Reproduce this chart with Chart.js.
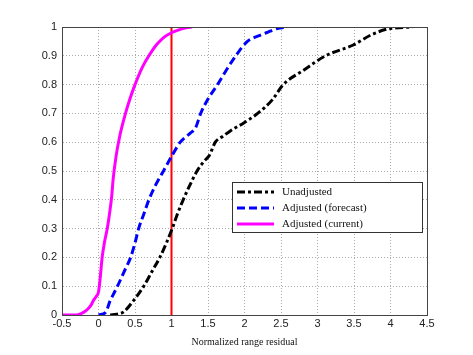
<!DOCTYPE html>
<html><head><meta charset="utf-8">
<script src="https://cdn.jsdelivr.net/npm/chart.js@4/dist/chart.umd.min.js"></script>
<style>html,body{margin:0;padding:0;background:#fff;}#wrap{width:473px;height:355px;}</style>
</head><body><div id="wrap"><canvas id="c" width="473" height="355"></canvas></div>
<script>
const seriesLabels = ['Unadjusted','Adjusted (forecast)','Adjusted (current)'];
const unadjX = [0.16,0.25,0.34,0.48,0.62,0.73,0.84,0.93,1.01,1.08,1.16,1.25,1.35,1.45,1.52,1.6,1.7,1.81,1.99,2.18,2.38,2.53,2.81,3.11,3.49,3.73,3.96,4.3];
const unadjY = [0,0.003,0.01,0.05,0.1,0.15,0.2,0.25,0.3,0.35,0.4,0.45,0.5,0.535,0.555,0.6,0.62,0.64,0.667,0.7,0.747,0.8,0.85,0.9,0.9375,0.972,0.993,1];
const forecastX = [0,0.1,0.16,0.2,0.26,0.35,0.44,0.5,0.55,0.62,0.69,0.78,0.89,1.0,1.12,1.25,1.33,1.4,1.5,1.63,1.75,1.88,2.04,2.2,2.3,2.45,2.58];
const forecastY = [0,0.01,0.05,0.07,0.1,0.15,0.2,0.25,0.3,0.35,0.4,0.45,0.5,0.55,0.6,0.63,0.65,0.7,0.75,0.8,0.85,0.9,0.95,0.97,0.98,0.995,1];
const currentX = [-0.5,-0.3,-0.2,-0.15,-0.1,-0.07,-0.03,0,0.02,0.05,0.08,0.12,0.15,0.18,0.2,0.24,0.29,0.37,0.43,0.5,0.6,0.69,0.8,0.9,1.0,1.1,1.2,1.28];
const currentY = [0,0,0.01,0.02,0.035,0.05,0.065,0.08,0.12,0.2,0.25,0.3,0.35,0.41,0.47,0.55,0.62,0.7,0.75,0.8,0.86,0.9,0.94,0.965,0.98,0.99,0.997,1];
const refLineX = [1,1];
const refLineY = [0,1];
const xTicks = [-0.5,0,0.5,1,1.5,2,2.5,3,3.5,4,4.5];
const yTicks = [0,0.1,0.2,0.3,0.4,0.5,0.6,0.7,0.8,0.9,1];
const xTitle = 'Normalized range residual';

const pts = (xs, ys) => xs.map((x, i) => ({x: x, y: ys[i]}));

const legendPlugin = {
  id: 'boxLegend',
  afterDraw(chart) {
    const ctx = chart.ctx;
    const bx = 232, by = 182, bw = 190, bh = 50;
    ctx.save();
    ctx.fillStyle = '#fff';
    ctx.fillRect(bx, by, bw, bh);
    ctx.strokeStyle = '#333';
    ctx.lineWidth = 1;
    ctx.strokeRect(bx + 0.5, by + 0.5, bw, bh);
    ctx.font = '11px "Liberation Serif", "Times New Roman", serif';
    ctx.textBaseline = 'middle';
    for (let i = 0; i < 3; i++) {
      const ds = chart.data.datasets[i];
      const yy = by + 10 + i * 16;
      ctx.strokeStyle = ds.borderColor;
      ctx.lineWidth = ds.borderWidth;
      ctx.setLineDash(ds.borderDash || []);
      ctx.beginPath();
      ctx.moveTo(bx + 5, yy);
      ctx.lineTo(bx + 42, yy);
      ctx.stroke();
      ctx.setLineDash([]);
      ctx.fillStyle = '#111';
      ctx.fillText(ds.label, bx + 50, yy);
    }
    ctx.restore();
  }
};

new Chart(document.getElementById('c'), {
  type: 'scatter',
  data: {
    datasets: [
      {label: seriesLabels[0], data: pts(unadjX, unadjY), showLine: true, borderColor: '#000', borderWidth: 3, borderDash: [8,3,3,3], pointRadius: 0, cubicInterpolationMode: 'monotone', fill: false},
      {label: seriesLabels[1], data: pts(forecastX, forecastY), showLine: true, borderColor: '#0000ff', borderWidth: 3, borderDash: [8,4], pointRadius: 0, cubicInterpolationMode: 'monotone', fill: false},
      {label: seriesLabels[2], data: pts(currentX, currentY), showLine: true, borderColor: '#ff00ff', borderWidth: 3, pointRadius: 0, cubicInterpolationMode: 'monotone', fill: false},
      {label: 'ref', data: pts(refLineX, refLineY), showLine: true, borderColor: '#ff0000', borderWidth: 2, pointRadius: 0, fill: false}
    ]
  },
  options: {
    animation: false,
    responsive: false,
    layout: {padding: {left: 0, top: 27, right: 46, bottom: 7}},
    plugins: {legend: {display: false}, tooltip: {enabled: false}},
    scales: {
      x: {
        type: 'linear', min: -0.5, max: 4.5,
        afterBuildTicks: s => { s.ticks = xTicks.map(v => ({value: v})); },
        afterFit: s => { s.height = 33; },
        ticks: {color: '#222', font: {family: '"Liberation Sans", Arial, sans-serif', size: 11}, padding: 2, maxRotation: 0, callback: v => String(v)},
        grid: {color: '#aaa', lineWidth: 1, drawTicks: false},
        border: {color: '#444', dash: [1,2]},
        title: {display: true, text: xTitle, color: '#111', font: {family: '"Liberation Serif", "Times New Roman", serif', size: 10}, padding: {top: 4, bottom: 0}}
      },
      y: {
        type: 'linear', min: 0, max: 1,
        afterBuildTicks: s => { s.ticks = yTicks.map(v => ({value: v})); },
        afterFit: s => { s.width = 62; },
        ticks: {color: '#222', font: {family: '"Liberation Sans", Arial, sans-serif', size: 11}, padding: 5, callback: v => String(v)},
        grid: {color: '#aaa', lineWidth: 1, drawTicks: false},
        border: {color: '#444', dash: [1,2]}
      }
    }
  },
  plugins: [legendPlugin, {
    id: 'frame',
    afterDatasetsDraw(chart) {
      const a = chart.chartArea, ctx = chart.ctx;
      ctx.save();
      ctx.strokeStyle = '#444'; ctx.lineWidth = 1;
      ctx.strokeRect(Math.round(a.left) + 0.5, Math.round(a.top) + 0.5, Math.round(a.right - a.left), Math.round(a.bottom - a.top));
      ctx.restore();
    }
  }]
});
</script></body></html>
